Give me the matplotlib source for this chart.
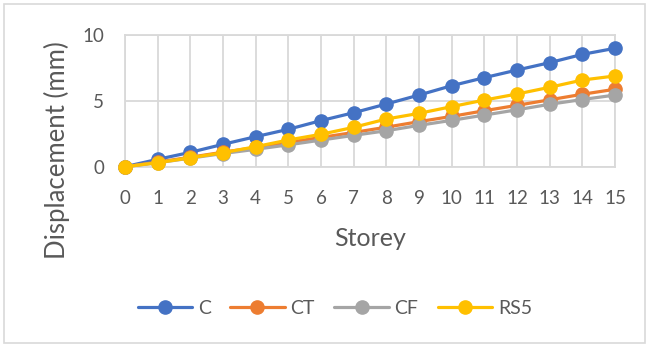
import matplotlib
matplotlib.use("Agg")
import matplotlib.pyplot as plt
from matplotlib.patches import Rectangle

storey = list(range(16))
disp_c = [0, 0.56, 1.09, 1.70, 2.28, 2.84, 3.50, 4.10, 4.76, 5.44, 6.15, 6.76, 7.34, 7.90, 8.53, 8.99]
disp_ct = [0, 0.35, 0.72, 1.10, 1.46, 1.85, 2.22, 2.60, 3.00, 3.42, 3.82, 4.25, 4.66, 5.08, 5.50, 5.88]
disp_cf = [0, 0.30, 0.65, 1.00, 1.32, 1.66, 2.02, 2.38, 2.73, 3.14, 3.52, 3.92, 4.32, 4.74, 5.10, 5.44]
disp_rs5 = [0, 0.30, 0.68, 1.06, 1.52, 2.03, 2.46, 2.99, 3.62, 4.05, 4.56, 5.06, 5.52, 6.03, 6.58, 6.89]

series = [
    ("C", disp_c, "#4472C4"),
    ("CT", disp_ct, "#ED7D31"),
    ("CF", disp_cf, "#A5A5A5"),
    ("RS5", disp_rs5, "#FFC000"),
]

plt.rcParams["font.family"] = ["Lato", "DejaVu Sans"]
text_color = "#595959"
grid_color = "#D9D9D9"

fig = plt.figure(figsize=(6.5, 3.47), dpi=100)
W, H = 650, 347
x0, x1, y_top, y_bot = 125, 615, 35, 166.7
ax = fig.add_axes([x0 / W, 1 - y_bot / H, (x1 - x0) / W, (y_bot - y_top) / H])

for name, vals, col in series:
    ax.plot(storey, vals, color=col, lw=2.3, marker="o", markersize=9.5,
            label=name, solid_capstyle="round", zorder=3, clip_on=False)

ax.set_xlim(0, 15)
ax.set_ylim(0, 10)
ax.set_xticks(storey)
ax.set_yticks([0, 5, 10])
ax.grid(True, color=grid_color, lw=1.3)
ax.set_axisbelow(True)
for s in ax.spines.values():
    s.set_color(grid_color)
    s.set_linewidth(1.3)
ax.tick_params(length=0, colors=text_color, labelsize=13.5)
ax.tick_params(axis="x", pad=17)
ax.tick_params(axis="y", pad=15)

ax.set_xlabel("Storey", color=text_color, fontsize=18)
ax.xaxis.label.set_verticalalignment("center")
ax.xaxis.set_label_coords(0.5, (y_bot - 238) / (y_bot - y_top))

ax.set_ylabel("Displacement (mm)", color=text_color, fontsize=18.5)
ax.yaxis.label.set_verticalalignment("center")
ax.yaxis.set_label_coords((57 - x0) / (x1 - x0), (y_bot - 150) / (y_bot - y_top))

leg = fig.legend(loc="center", bbox_to_anchor=(335 / W, 1 - 308 / H), ncol=4,
                 frameon=False, fontsize=14, handlelength=2.8,
                 columnspacing=1.0, handletextpad=0.3)
for t in leg.get_texts():
    t.set_color(text_color)

fig.patches.append(Rectangle((4 / W, 4 / H), 641 / W, 339 / H, transform=fig.transFigure,
                             fill=False, edgecolor="#D9D9D9", lw=1.2))

fig.savefig("out.png", dpi=100, facecolor="white")
